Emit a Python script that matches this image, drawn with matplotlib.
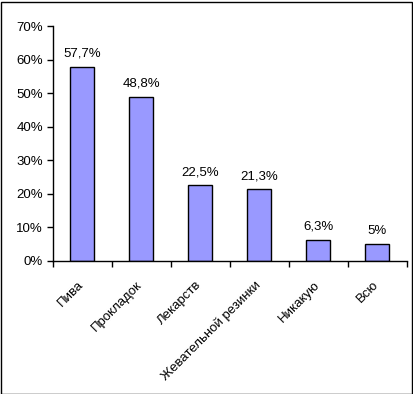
import matplotlib.pyplot as plt
import numpy as np
from matplotlib.ticker import FuncFormatter, FixedLocator
from matplotlib.patches import Rectangle
from matplotlib.transforms import ScaledTranslation

plt.rcParams['font.family'] = ['Liberation Sans', 'DejaVu Sans']

categories = ["Пива", "Прокладок", "Лекарств", "Жевательной резинки", "Никакую", "Всю"]
values = [57.7, 48.8, 22.5, 21.3, 6.3, 5.0]
value_labels = ["57,7%", "48,8%", "22,5%", "21,3%", "6,3%", "5%"]

fig = plt.figure(figsize=(4.13, 3.94), dpi=100)
ax = fig.add_axes([0.128, 0.3376, 0.857, 0.5964])

x = np.arange(len(categories))
ax.bar(x, values, width=0.41, color="#9999FF", edgecolor="black", linewidth=1)

for xi, v, lab in zip(x, values, value_labels):
    ax.text(xi, v + 2.2, lab, ha="center", va="bottom", fontsize=9.5)

ax.set_xlim(-0.5, len(categories) - 0.5)
ax.set_ylim(0, 70)
ax.set_yticks(np.arange(0, 71, 10))
ax.yaxis.set_major_formatter(FuncFormatter(lambda v, _: f"{int(v)}%"))
ax.tick_params(axis="y", labelsize=9.5, length=4, width=1, direction="out", pad=3)

ax.set_xticks(x)
ax.set_xticklabels(categories, rotation=45, ha="right", rotation_mode="anchor", fontsize=9.5)
ax.tick_params(axis="x", which="major", length=0, pad=13)
shift = ScaledTranslation(-0.05, 0, fig.dpi_scale_trans)
for lbl in ax.get_xticklabels():
    lbl.set_transform(lbl.get_transform() + shift)
ax.xaxis.set_minor_locator(FixedLocator(np.arange(-0.5, len(categories), 1.0)))
ax.tick_params(axis="x", which="minor", length=4, width=1, direction="out")

for s in ["top", "right"]:
    ax.spines[s].set_visible(False)
for s in ["left", "bottom"]:
    ax.spines[s].set_linewidth(1)

fig.patches.append(Rectangle((0.5 / 413, 0.5 / 394), 411 / 413, 392 / 394, transform=fig.transFigure,
                             fill=False, edgecolor="black", linewidth=1))

fig.savefig("out.png", dpi=100)
